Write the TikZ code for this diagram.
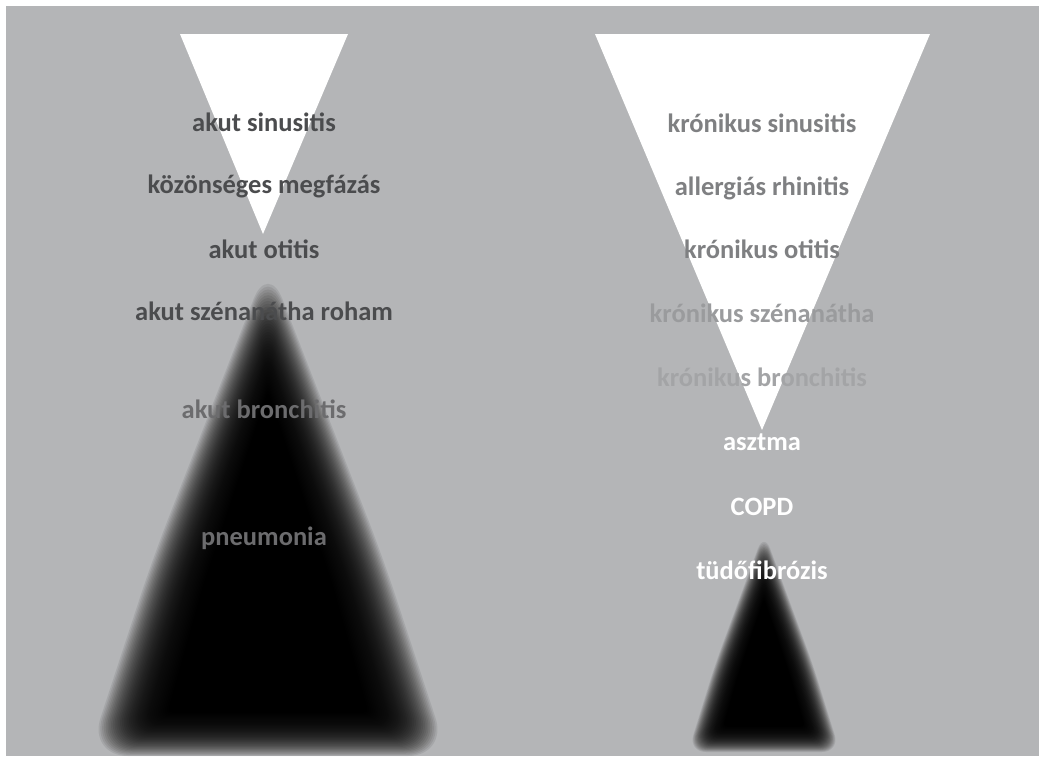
\documentclass[tikz,border=0pt]{standalone}
\usepackage{fontspec}
\setmainfont{Carlito}
\definecolor{bggrey}{HTML}{B4B5B7}
\definecolor{dkgrey}{HTML}{4B4C4E}
\definecolor{mdgrey}{HTML}{6C6C6E}
\definecolor{ltgreyA}{HTML}{7F8082}
\definecolor{ltgreyB}{HTML}{9A9B9D}
\definecolor{ltgreyC}{HTML}{A3A4A6}
% soft black cone: x, outer apex/base/half width/corner, inner apex/base/half width/corner
\newcommand{\blurcone}[9]{%
\foreach \ks in {0,...,39}{
\pgfmathsetmacro{\kt}{\ks/39}
\pgfmathsetmacro{\kay}{#2+\kt*(#6-#2)}
\pgfmathsetmacro{\kby}{#3+\kt*(#7-#3)}
\pgfmathsetmacro{\khw}{#4+\kt*(#8-#4)}
\pgfmathsetmacro{\krc}{#5+\kt*(#9-#5)}
\pgfmathsetmacro{\kmy}{\kay+0.6*(\kby-\kay)}
\pgfmathsetmacro{\kmw}{0.64*\khw}
\fill[black,fill opacity=0.08,rounded corners=\krc pt](#1,\kay)--(#1-\kmw,\kmy)--(#1-\khw,\kby)--(#1+\khw,\kby)--(#1+\kmw,\kmy)--cycle;}}
\begin{document}
\begin{tikzpicture}[x=1pt,y=-1pt,lbl/.style={font=\bfseries\fontsize{26.5}{30}\selectfont,inner sep=0pt,anchor=base}]
\pgfmathsetmacro{\kxl}{264}
\pgfmathsetmacro{\kxr}{762}
\useasboundingbox(0,0) rectangle (1039,756);
\fill[bggrey](6,6) rectangle (1039,756);
% white funnels
\fill[white](180,34)--(348,34)--(263,234)--cycle;
\fill[white](595,34)--(930,34)--(\kxr,430)--cycle;
% dark cones
\blurcone{268}{262}{756}{180}{40}{392}{712}{100}{4}
\blurcone{764}{532}{752}{76}{18}{600}{726}{40}{3}
% labels
\foreach \ky/\klb/\kcol [count=\ki] in {131/{akut sinusitis}/dkgrey,193/{közönséges megfázás}/dkgrey,258/{akut otitis}/dkgrey,320/{akut szénanátha roham}/dkgrey,418/{akut bronchitis}/mdgrey,545/{pneumonia}/mdgrey}{\node[lbl,text=\kcol](left\ki) at (\kxl,\ky){\klb};}
\foreach \ky/\klb/\kcol [count=\ki] in {132/{krónikus sinusitis}/ltgreyA,195/{allergiás rhinitis}/ltgreyA,258/{krónikus otitis}/ltgreyA,322/{krónikus szénanátha}/ltgreyB,386/{krónikus bronchitis}/ltgreyC,450/{asztma}/white,515/{COPD}/white,579/{tüdőfibrózis}/white}{\node[lbl,text=\kcol](right\ki) at (\kxr,\ky){\klb};}
\end{tikzpicture}
\end{document}
